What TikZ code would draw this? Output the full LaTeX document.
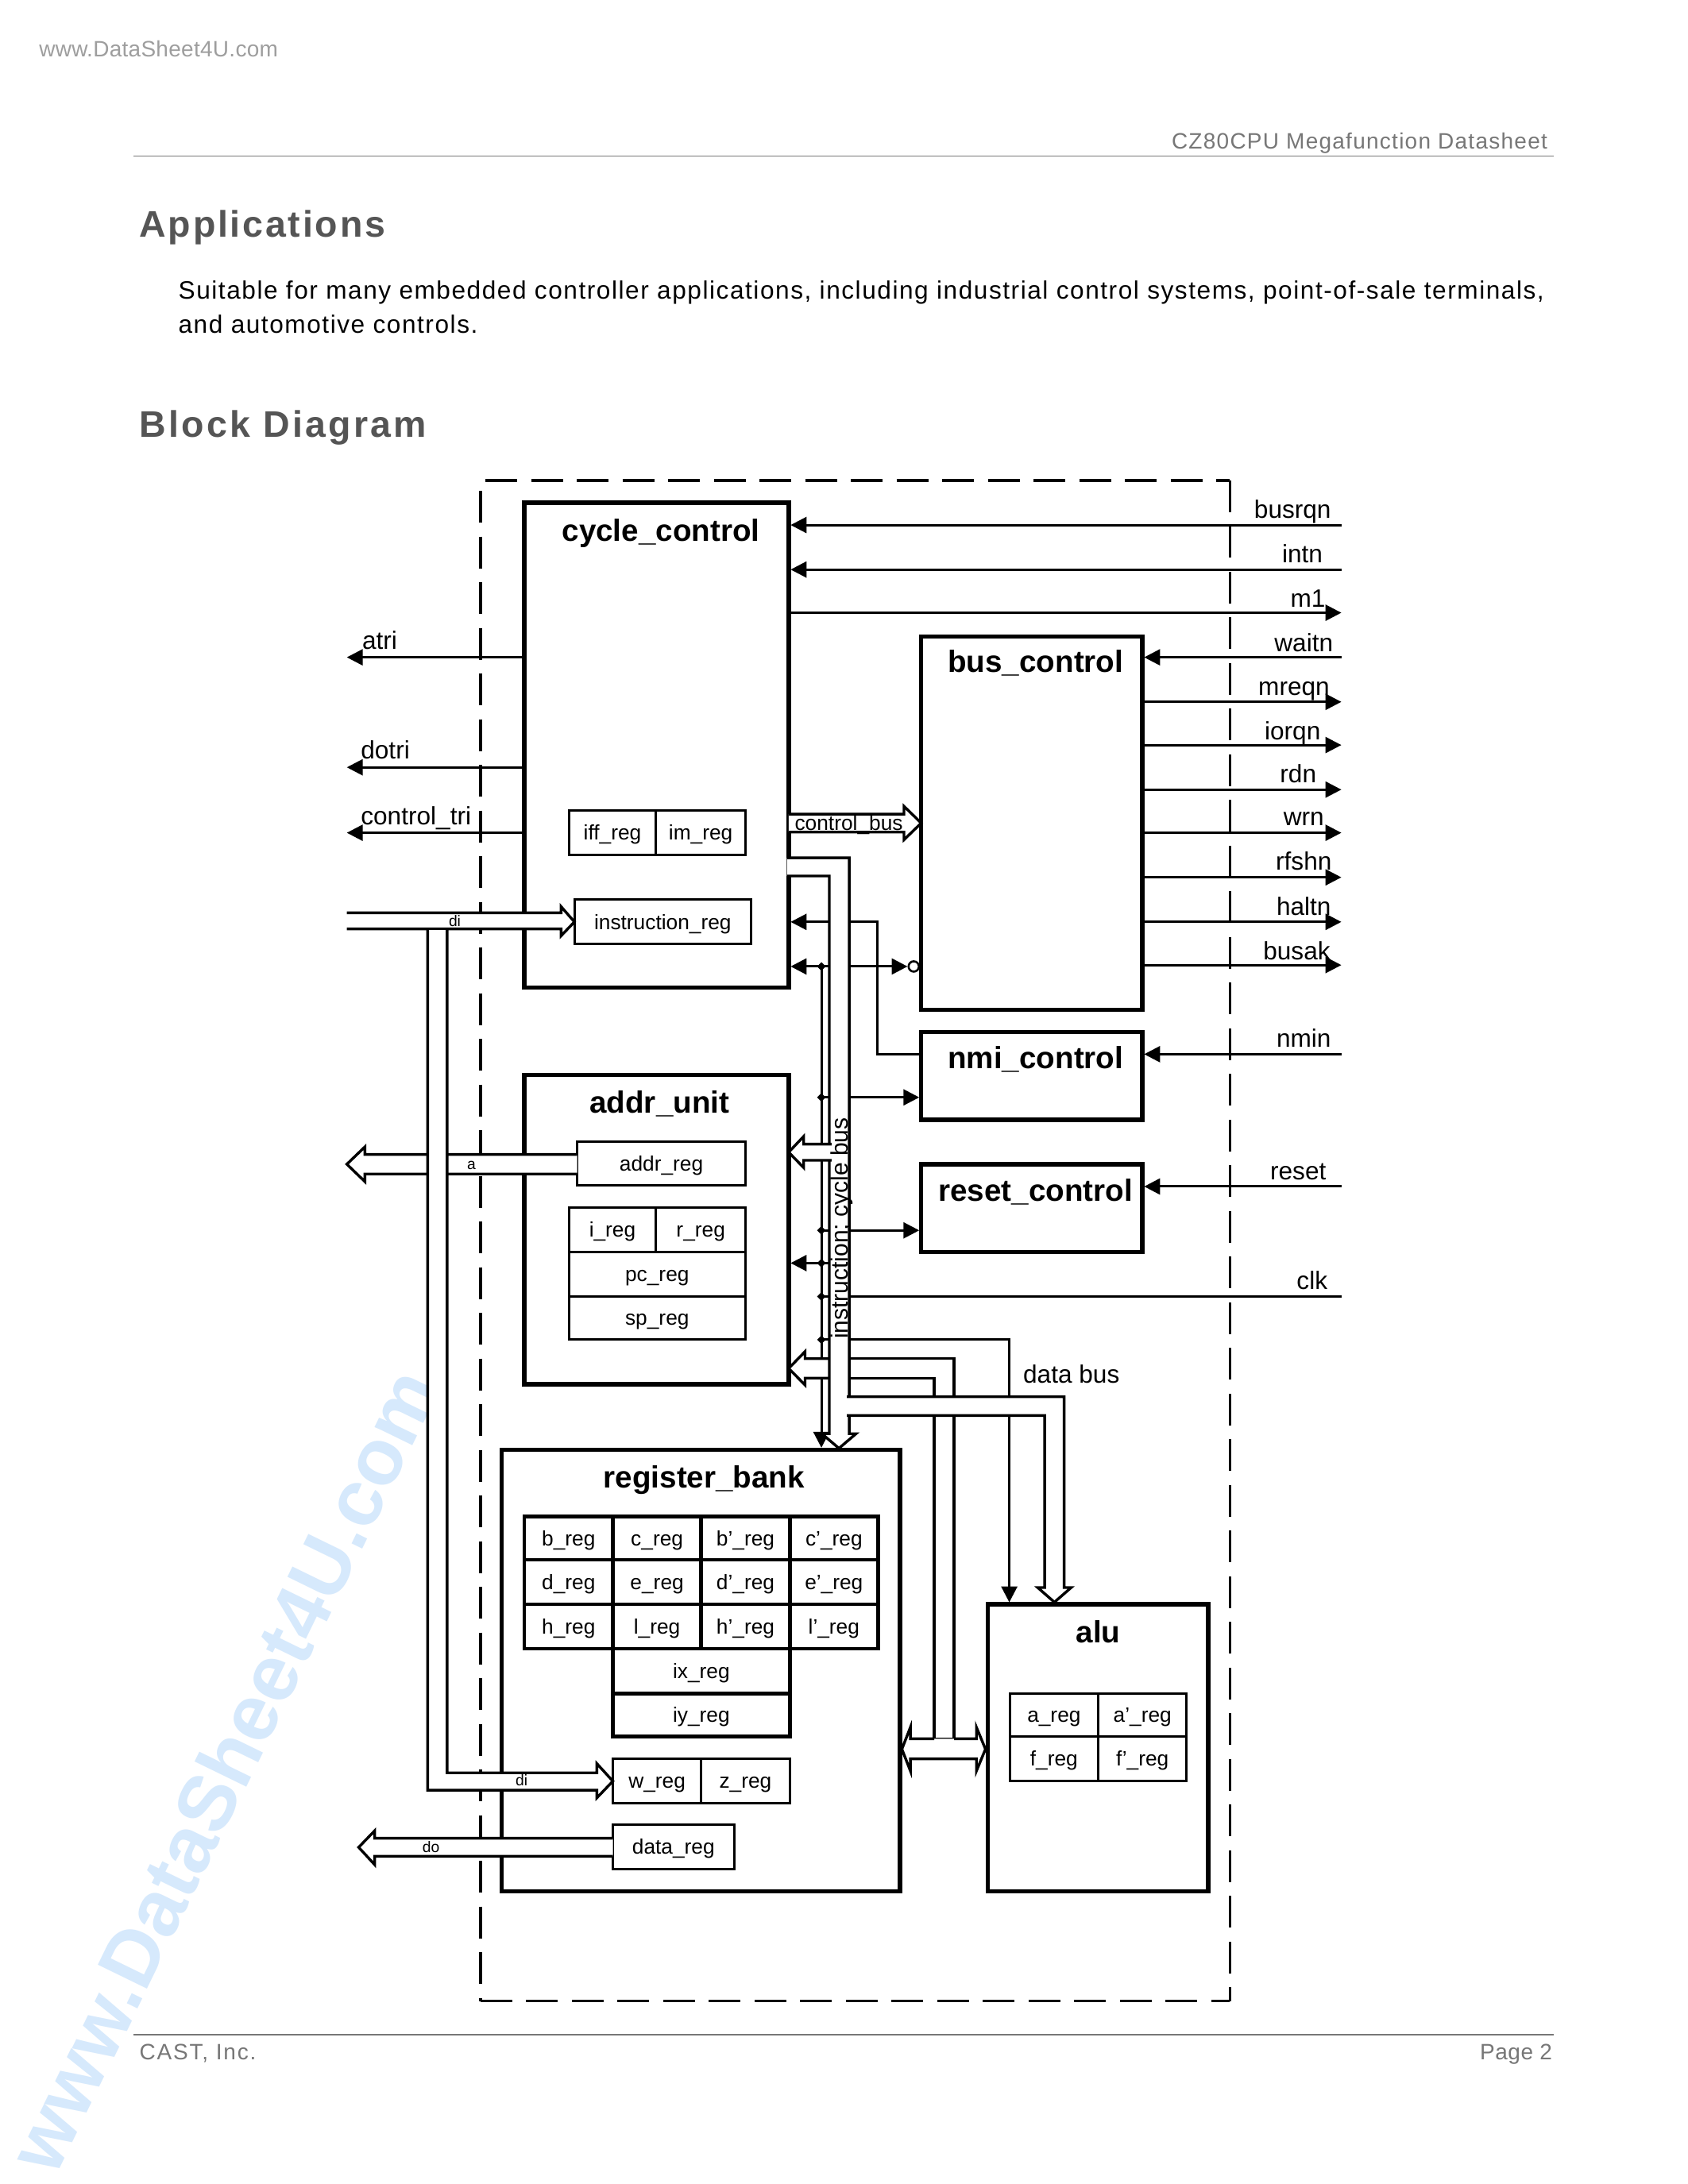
\documentclass[tikz,border=0pt]{standalone}
\usepackage{fontspec}
\setmainfont{Liberation Sans}
\newfontfamily\lsA[LetterSpace=4.5]{Liberation Sans}
\newfontfamily\lsB[LetterSpace=7]{Liberation Sans}
\newfontfamily\lsC[LetterSpace=4.9]{Liberation Sans}
\newfontfamily\lsD[LetterSpace=6]{Liberation Sans}
\newfontfamily\lsE[LetterSpace=6.5]{Liberation Sans}
\newfontfamily\lsF[LetterSpace=2]{Liberation Sans}
\newfontfamily\lsG[LetterSpace=1]{Liberation Sans}
\usetikzlibrary{arrows.meta,shapes.geometric}
\newcommand\fs[1]{\fontsize{#1}{#1}\selectfont}
\newcommand\bx[7]{\node[#6,minimum width={(#4-#2)*1.7535pt},minimum height={(#5-#3)*1.7535pt}] (#1) at ({(#2+#4)/2},{(#3+#5)/2}) {#7};}
\newcommand\hollow[1]{\fill[white] #1 -- cycle; \draw[busln] #1;}
\definecolor{wmark}{HTML}{D6E9FC}
\definecolor{headgray}{HTML}{555555}
\definecolor{sidegray}{HTML}{777777}
\tikzset{
 x=1.7535pt,y=-1.7535pt,
 bigbox/.style={draw,line width=5.4pt,inner sep=0pt,outer sep=0pt},
 regbox/.style={draw,line width=3pt,inner sep=0pt,outer sep=0pt,font=\fs{26.3},text height=18.5pt,text depth=0pt},
 gridbox/.style={regbox,line width=4.6pt},
 title/.style={anchor=base,font=\fs{38.6}\bfseries,inner sep=0pt},
 sig/.style={line width=3pt},
 arr/.style={sig,-{Triangle[length=20pt,width=20pt]},shorten >=2.5pt},
 busln/.style={line width=3.4pt,miter limit=6},
 lab/.style={anchor=base,font=\fs{31.6},inner sep=0pt},
 leftlab/.style={anchor=base west,font=\fs{31.6},inner sep=0pt},
 tiny/.style={anchor=base,font=\fs{19.3},inner sep=0pt},
 junct/.style={diamond,fill=black,inner sep=0pt,minimum size=11pt},
 dashbox/.style={line width=3.3pt,dash pattern=on 40pt off 17.5pt},
 pagetxt/.style={inner sep=0pt,anchor=base west},
 rule/.style={line width=1.5pt,color=sidegray},
}
\begin{document}
\begin{tikzpicture}
\useasboundingbox (0,0) rectangle (1211.86,1568.3);
\fill[white] (0,0) rectangle (1211.86,1568.3);
% watermark and page furniture
\node[rotate=64,text=wmark,font=\fs{100}\bfseries,inner sep=0pt] (wm) at (160,1271) {www.DataSheet4U.com};
\node[pagetxt,text=black!38,font=\lsG\fs{28}] (site) at (28,41) {www.DataSheet4U.com};
\node[inner sep=0pt,anchor=base east,text=sidegray,font=\lsA\fs{28}] (hdr) at (1111,107) {CZ80CPU Megafunction Datasheet};
\draw[rule] (96,112) -- (1115.5,112);
\node[pagetxt,text=headgray,font=\lsD\fs{46.5}\bfseries] (h1) at (100,170) {Applications};
\node[pagetxt,font=\lsC\fs{31.6}] (p1) at (128,214.8) {Suitable for many embedded controller applications, including industrial control systems, point-of-sale terminals,};
\node[pagetxt,font=\lsC\fs{31.6}] (p2) at (128,239) {and automotive controls.};
\node[pagetxt,text=headgray,font=\lsB\fs{46.5}\bfseries] (h2) at (100,314) {Block Diagram};
\draw[rule] (96,1461) -- (1115.5,1461);
\node[pagetxt,text=sidegray,font=\lsE\fs{28}] (ft) at (100,1479) {CAST, Inc.};
\node[inner sep=0pt,anchor=base east,text=sidegray,font=\lsF\fs{28}] (pg) at (1114.5,1479) {Page 2};
% dashed outline
\draw[dashbox] (348.5,345) -- (883,345);
\draw[dashbox] (345,352.5) -- (345,1437);
\draw[dashbox] (883,345) -- (883,1437);
\draw[dashbox] (345,1437) -- (883,1437);
% main blocks
\bx{cc}{376.4}{361}{566.2}{709}{bigbox}{}
\bx{bc}{661.4}{457}{820}{725}{bigbox}{}
\bx{nc}{661.4}{741}{820}{804}{bigbox}{}
\bx{rc}{661.4}{836}{820}{899}{bigbox}{}
\bx{au}{376.4}{772}{566.2}{994}{bigbox}{}
\bx{rb}{360.3}{1041}{646.2}{1358}{bigbox}{}
\bx{al}{709}{1152}{867.4}{1358}{bigbox}{}
% registers
\bx{iff}{408.4}{582}{471}{614}{regbox}{iff\_reg}
\bx{im}{471}{582}{535.2}{614}{regbox}{im\_reg}
\bx{ir}{412.4}{646}{539.2}{678}{regbox}{instruction\_reg}
\bx{ar}{414.4}{820}{535.2}{851}{regbox}{addr\_reg}
\bx{ireg}{408.4}{867}{471}{899}{regbox}{i\_reg}
\bx{rreg}{471}{867}{535.2}{899}{regbox}{r\_reg}
\bx{pc}{408.4}{899}{535.2}{931}{regbox}{pc\_reg}
\bx{sp}{408.4}{931}{535.2}{962}{regbox}{sp\_reg}
\bx{breg}{376.4}{1089}{440}{1120}{gridbox}{b\_reg}
\bx{creg}{440}{1089}{503.4}{1120}{gridbox}{c\_reg}
\bx{bp}{503.4}{1089}{567}{1120}{gridbox}{b'\_reg}
\bx{cp}{567}{1089}{630.4}{1120}{gridbox}{c'\_reg}
\bx{dreg}{376.4}{1120}{440}{1152}{gridbox}{d\_reg}
\bx{ereg}{440}{1120}{503.4}{1152}{gridbox}{e\_reg}
\bx{dp}{503.4}{1120}{567}{1152}{gridbox}{d'\_reg}
\bx{ep}{567}{1120}{630.4}{1152}{gridbox}{e'\_reg}
\bx{hreg}{376.4}{1152}{440}{1184}{gridbox}{h\_reg}
\bx{lreg}{440}{1152}{503.4}{1184}{gridbox}{l\_reg}
\bx{hp}{503.4}{1152}{567}{1184}{gridbox}{h'\_reg}
\bx{lp}{567}{1152}{630.4}{1184}{gridbox}{l'\_reg}
\bx{ix}{440}{1184}{567}{1216}{gridbox}{ix\_reg}
\bx{iy}{440}{1216}{567}{1247}{gridbox}{iy\_reg}
\bx{wr}{440}{1263}{503.4}{1295}{regbox}{w\_reg}
\bx{zr}{503.4}{1263}{567}{1295}{regbox}{z\_reg}
\bx{dr}{440}{1310}{527}{1342}{regbox}{data\_reg}
\bx{areg}{725}{1216}{788.4}{1247}{regbox}{a\_reg}
\bx{ap}{788.4}{1216}{852}{1247}{regbox}{a'\_reg}
\bx{freg}{725}{1247}{788.4}{1279}{regbox}{f\_reg}
\bx{fp}{788.4}{1247}{852}{1279}{regbox}{f'\_reg}
% free ends
\coordinate (eR) at (963,0);
\coordinate (eL) at (249,0);
\coordinate (j1) at (589.7,694);
\coordinate (j2) at (589.7,788);
\coordinate (j3) at (589.7,883.5);
\coordinate (j4) at (589.7,907);
\coordinate (j5) at (589.7,931);
\coordinate (j6) at (589.7,962);
\coordinate (alupin) at (724.6,1152);
\coordinate (nmibend) at (629.6,757);
\coordinate (instL) at (595.4,907);
\node[circle,draw,line width=2.6pt,fill=white,inner sep=0pt,minimum size=13pt] (inv) at (656,694) {};
% right side signals
\draw[arr] (eR |- 0,377) -- (cc.east |- 0,377);
\draw[arr] (eR |- 0,409) -- (cc.east |- 0,409);
\draw[arr,shorten >=0pt] (cc.east |- 0,440) -- (eR |- 0,440);
\draw[arr] (eR |- 0,472) -- (bc.east |- 0,472);
\foreach \yy in {504,535,567,598,630,662,693}{\draw[arr,shorten >=0pt] (bc.east |- 0,\yy) -- (eR |- 0,\yy);}
\draw[arr] (eR |- 0,757) -- (nc.east |- 0,757);
\draw[arr] (eR |- 0,852) -- (rc.east |- 0,852);
% left side signals
\draw[arr,shorten >=0pt] (cc.west |- 0,472) -- (eL |- 0,472);
\draw[arr,shorten >=0pt] (cc.west |- 0,551) -- (eL |- 0,551);
\draw[arr,shorten >=0pt] (cc.west |- 0,598) -- (eL |- 0,598);
% central control signals
\draw[arr] (nc.west |- nmibend) -- (nmibend) -- (nmibend |- 0,662) -- (cc.east |- 0,662);
\draw[arr] (j1) -- (cc.east |- j1);
\draw[arr,shorten >=0pt] (j1) -- (inv.west);
\draw[arr] (j2) -- (nc.west |- j2);
\draw[arr] (j3) -- (rc.west |- j3);
\draw[arr] (instL) -- (au.east |- instL);
\draw[sig] (j5) -- (eR |- j5);
\draw[arr] (j6) -| (alupin);
\draw[arr] (j1) -- (j1 |- rb.north);
\foreach \j in {j1,j2,j3,j4,j5,j6}{\node[junct] at (\j) {};}
% buses, back to front
\hollow{(ar.west |- 0,829) -- (262,829) -- (262,823.5) -- (249,836) -- (262,848.5) -- (262,843) -- (ar.west |- 0,843)}
\hollow{(249,655.5) -- (402.8,655.5) -- (402.8,651) -- (ir.west) -- (402.8,672) -- (402.8,667) -- (249,667)}
\hollow{(321,667.9) -- (321,1273) -- (428.5,1273) -- (428.5,1266.4) -- (wr.west) -- (428.5,1291) -- (428.5,1285.5) -- (307,1285.5) -- (307,667.9)}
\hollow{(dr.west |- 0,1320) -- (269,1320) -- (269,1314.6) -- (257.5,1326.5) -- (269,1339) -- (269,1333) -- (dr.west |- 0,1333)}
\hollow{(596,975.6) -- (578,975.6) -- (578,970.5) -- (au.east |- 0,982.6) -- (578,994.6) -- (578,989.6) -- (596,989.6)}
\hollow{(609.7,975.6) -- (685,975.6) -- (685,1248.6) -- (670.7,1248.6) -- (670.7,989.6) -- (609.7,989.6)}
\hollow{(565,616) -- (609.7,616) -- (609.7,1029.5) -- (614.6,1029.5) -- (602.3,1040) -- (590,1029.5) -- (595.4,1029.5) -- (595.4,629) -- (565,629)}
\hollow{(597,821.6) -- (577,821.6) -- (577,816) -- (au.east |- 0,827.4) -- (577,838.5) -- (577,833.2) -- (597,833.2)}
\hollow{(608,1003) -- (764,1003) -- (764,1140) -- (769,1140) -- (757,1150.5) -- (745,1140) -- (750,1140) -- (750,1016.5) -- (608,1016.5)}
\fill[white] (653.6,1248.6) -- (653.6,1240.3) -- (647.5,1256) -- (653.6,1271.7) -- (653.6,1263) -- (701,1263) -- (701,1271.7) -- (707.5,1256) -- (701,1240.3) -- (701,1248.6) -- cycle;
\draw[busln] (670.7,1248.6) -- (653.6,1248.6) -- (653.6,1240.3) -- (647.5,1256) -- (653.6,1271.7) -- (653.6,1263) -- (701,1263) -- (701,1271.7) -- (707.5,1256) -- (701,1240.3) -- (701,1248.6) -- (685,1248.6);
\hollow{(cc.east |- 0,584.6) -- (649,584.6) -- (649,579) -- (bc.west |- 0,591) -- (649,603) -- (649,597.5) -- (cc.east |- 0,597.5)}
% titles
\node[title] (t1) at (474.5,388.5) {cycle\_control};
\node[title] (t2) at (743.5,482.5) {bus\_control};
\node[title] (t3) at (743.5,767.5) {nmi\_control};
\node[title] (t4) at (743.5,862.5) {reset\_control};
\node[title] (t5) at (473.5,799.5) {addr\_unit};
\node[title] (t6) at (505.5,1068.5) {register\_bank};
\node[title] (t7) at (788.5,1179.5) {alu};
% signal labels
\node[lab] (l1) at (928,372) {busrqn};
\node[lab] (l2) at (935,404) {intn};
\node[lab] (l3) at (939,436) {m1};
\node[lab] (l4) at (936,468) {waitn};
\node[lab] (l5) at (929,499) {mreqn};
\node[lab] (l6) at (928,531) {iorqn};
\node[lab] (l7) at (932,562) {rdn};
\node[lab] (l8) at (936,593) {wrn};
\node[lab] (l9) at (936,625) {rfshn};
\node[lab] (l10) at (936,657) {haltn};
\node[lab] (l11) at (931,689) {busak};
\node[lab] (l12) at (936,752) {nmin};
\node[lab] (l13) at (932,847) {reset};
\node[lab] (l14) at (942,926) {clk};
\node[leftlab] (l15) at (260,466) {atri};
\node[leftlab] (l16) at (259,545) {dotri};
\node[leftlab] (l17) at (259,592.5) {control\_tri};
\node[leftlab] (l18) at (734.5,993) {data bus};
\node[anchor=base west,font=\fs{26.3},inner sep=0pt] (l19) at (570.5,596) {control\_bus};
\node[rotate=90,anchor=base,font=\fs{30},inner sep=0pt] (l20) at (608.5,882) {instruction; cycle bus};
\node[tiny] (l21) at (326.5,665) {di};
\node[tiny] (l22) at (338.5,840) {a};
\node[tiny] (l23) at (374.5,1282) {di};
\node[tiny] (l24) at (309.5,1330) {do};
\end{tikzpicture}
\end{document}
